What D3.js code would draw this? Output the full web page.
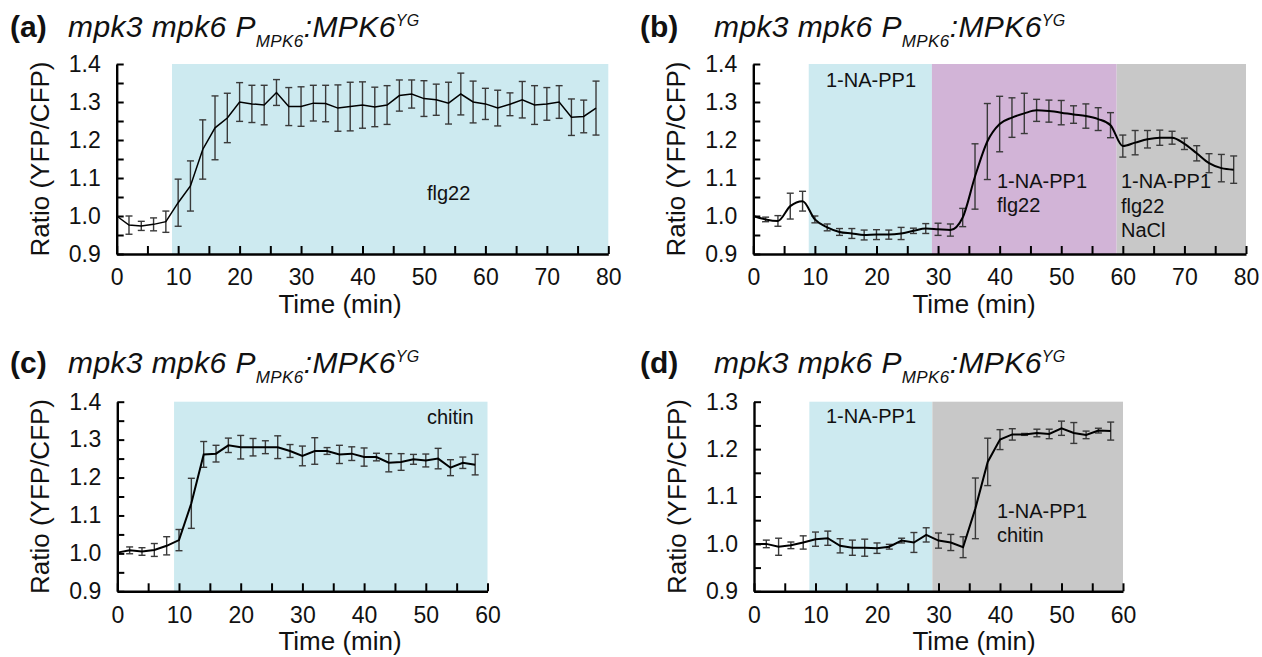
<!DOCTYPE html>
<html>
<head>
<meta charset="utf-8">
<script src="https://cdn.jsdelivr.net/npm/d3@7"></script>
<style>
  html, body { margin: 0; padding: 0; background: #ffffff; }
  svg { display: block; }
  text { font-family: "Liberation Sans", Arial, sans-serif; fill: #111; }
</style>
</head>
<body>
<div id="chart"></div>
<script>
// ---------------- DATA ----------------
const timeA = [0,2,4,6,8,10,12,14,16,18,20,22,24,26,28,30,32,34,36,38,40,42,44,46,48,50,52,54,56,58,60,62,64,66,68,70,72,74,76,78];
const valueA = [1.000,0.976,0.974,0.978,0.985,1.035,1.079,1.175,1.232,1.258,1.300,1.295,1.292,1.325,1.288,1.288,1.297,1.296,1.284,1.288,1.292,1.287,1.292,1.317,1.321,1.309,1.306,1.297,1.321,1.300,1.295,1.284,1.294,1.306,1.292,1.295,1.300,1.260,1.262,1.284];
const errA = [0.000,0.024,0.012,0.017,0.028,0.062,0.066,0.078,0.084,0.065,0.051,0.049,0.052,0.034,0.050,0.052,0.047,0.048,0.061,0.064,0.061,0.052,0.051,0.041,0.037,0.047,0.041,0.055,0.055,0.055,0.041,0.047,0.030,0.048,0.051,0.043,0.043,0.048,0.043,0.071];

const timeB = [0,2,4,6,8,10,12,14,16,18,20,22,24,26,28,30,32,34,36,38,40,42,44,46,48,50,52,54,56,58,60,62,64,66,68,70,72,74,76,78];
const valueB = [1.000,0.991,0.987,1.026,1.039,0.991,0.970,0.958,0.954,0.950,0.951,0.951,0.954,0.961,0.967,0.965,0.963,0.996,1.104,1.196,1.242,1.259,1.270,1.278,1.276,1.272,1.267,1.263,1.255,1.239,1.184,1.193,1.202,1.206,1.206,1.190,1.165,1.139,1.126,1.122];
const errB = [0.000,0.006,0.014,0.034,0.026,0.009,0.009,0.009,0.013,0.013,0.013,0.012,0.016,0.007,0.013,0.016,0.016,0.024,0.086,0.100,0.073,0.052,0.053,0.029,0.029,0.032,0.023,0.032,0.030,0.033,0.029,0.032,0.023,0.020,0.017,0.015,0.020,0.025,0.036,0.036];

const timeC = [0,2,4,6,8,10,12,14,16,18,20,22,24,26,28,30,32,34,36,38,40,42,44,46,48,50,52,54,56,58];
const valueC = [1.002,1.008,1.005,1.009,1.020,1.035,1.132,1.261,1.263,1.285,1.280,1.280,1.280,1.280,1.270,1.257,1.270,1.270,1.261,1.263,1.254,1.254,1.239,1.241,1.248,1.245,1.250,1.226,1.239,1.234];
const errC = [0.000,0.009,0.010,0.017,0.024,0.028,0.066,0.034,0.022,0.019,0.031,0.023,0.017,0.030,0.017,0.026,0.035,0.009,0.024,0.018,0.024,0.010,0.024,0.022,0.013,0.017,0.027,0.021,0.015,0.027];

const timeD = [0,2,4,6,8,10,12,14,16,18,20,22,24,26,28,30,32,34,36,38,40,42,44,46,48,50,52,54,56,58];
const valueD = [1.000,1.000,0.994,0.997,1.003,1.010,1.012,0.996,0.992,0.992,0.991,0.994,1.007,1.003,1.019,1.007,1.003,0.993,1.075,1.173,1.220,1.231,1.231,1.234,1.232,1.244,1.234,1.230,1.239,1.238];
const errD = [0.000,0.008,0.018,0.007,0.014,0.015,0.015,0.015,0.016,0.018,0.011,0.005,0.005,0.021,0.015,0.016,0.017,0.022,0.064,0.050,0.021,0.012,0.002,0.008,0.010,0.015,0.022,0.008,0.005,0.019];

// treatment periods (min)
const bandsA = [{from: 9, to: 80, color: "#cdeaf0"}];
const bandsB = [{from: 9, to: 29, color: "#cdeaf0"}, {from: 29, to: 59, color: "#d2b4d7"}, {from: 59, to: 80, color: "#c8c8c8"}];
const bandsC = [{from: 9.2, to: 60, color: "#cdeaf0"}];
const bandsD = [{from: 9, to: 29, color: "#cdeaf0"}, {from: 29, to: 60, color: "#c8c8c8"}];

// tick labels
const xTicks80 = [0,10,20,30,40,50,60,70,80];
const xTicks60 = [0,10,20,30,40,50,60];
const yTicks14 = [0.9,1.0,1.1,1.2,1.3,1.4];
const yTicks13 = [0.9,1.0,1.1,1.2,1.3];

const panelLetters = ["(a)", "(b)", "(c)", "(d)"];
const yLabel = "Ratio (YFP/CFP)";
const xLabel = "Time (min)";

// ---------------- DRAW ----------------
const svg = d3.select("#chart").append("svg").attr("width", 1262).attr("height", 657);

function drawPanel(p) {
  const x = d3.scaleLinear().domain(p.xDomain).range([p.left, p.right]);
  const y = d3.scaleLinear().domain(p.yDomain).range([p.bottom, p.top]);
  const g = svg.append("g");

  // bands
  g.selectAll("rect.band").data(p.bands).join("rect")
    .attr("x", d => x(d.from)).attr("y", y(p.yDomain[1]))
    .attr("width", d => x(d.to) - x(d.from))
    .attr("height", y(p.yDomain[0]) - y(p.yDomain[1]))
    .attr("fill", d => d.color);

  // annotations
  p.notes.forEach(n => {
    const t = g.append("text").attr("x", n.x).attr("y", n.y).attr("font-size", 20);
    n.lines.forEach((ln, i) => t.append("tspan").attr("x", n.x).attr("dy", i === 0 ? 0 : n.lh).text(ln));
  });

  // axes (inward ticks, major + minor)
  const xMinor = d3.range(p.xDomain[0], p.xDomain[1] + 0.001, 5);
  const yMinor = d3.range(0, Math.round((p.yDomain[1] - p.yDomain[0]) / 0.05) + 1).map(i => +(p.yDomain[0] + i * 0.05).toFixed(2));
  const xAxis = d3.axisBottom(x).tickValues(xMinor).tickSize(-8).tickSizeOuter(0).tickPadding(15)
    .tickFormat(v => p.xTicks.includes(v) ? d3.format("d")(v) : "");
  const yAxis = d3.axisLeft(y).tickValues(yMinor).tickSize(-7).tickSizeOuter(0).tickPadding(16)
    .tickFormat(v => p.yTicks.some(t => Math.abs(t - v) < 1e-6) ? d3.format(".1f")(v) : "");

  const gx = g.append("g").attr("transform", `translate(0,${p.bottom})`).call(xAxis);
  const gy = g.append("g").attr("transform", `translate(${p.left},0)`).call(yAxis);
  [gx, gy].forEach(a => {
    a.select(".domain").attr("stroke", "#000").attr("stroke-width", 2.4);
    a.selectAll(".tick line").attr("stroke", "#000").attr("stroke-width", 2);
    a.selectAll(".tick text").attr("font-size", 23).attr("fill", "#111")
      .attr("font-family", "Liberation Sans, Arial, sans-serif");
  });

  // error bars
  const data = p.t.map((t, i) => ({t, v: p.v[i], e: p.e[i]}));
  const eb = g.append("g").attr("stroke", "#3a3a3a").attr("stroke-width", 1.4).attr("fill", "none");
  data.filter(d => d.e > 0).forEach(d => {
    const cx = x(d.t), y1 = y(d.v + d.e), y2 = y(d.v - d.e);
    eb.append("line").attr("x1", cx).attr("x2", cx).attr("y1", y1).attr("y2", y2);
    eb.append("line").attr("x1", cx - 3.5).attr("x2", cx + 3.5).attr("y1", y1).attr("y2", y1);
    eb.append("line").attr("x1", cx - 3.5).attr("x2", cx + 3.5).attr("y1", y2).attr("y2", y2);
  });

  // mean line
  const line = d3.line().x(d => x(d.t)).y(d => y(d.v)).curve(p.curve);
  g.append("path").datum(data).attr("d", line)
    .attr("fill", "none").attr("stroke", "#000").attr("stroke-width", p.lw);

  // y label
  g.append("text").attr("transform", `translate(${p.left - 68},${(p.top + p.bottom) / 2}) rotate(-90)`)
    .attr("text-anchor", "middle").attr("font-size", 26).text(yLabel);
  // x label
  g.append("text").attr("x", p.xLabelX).attr("y", p.bottom + 59)
    .attr("text-anchor", "middle").attr("font-size", 26).text(xLabel);

  // title
  svg.append("text").attr("x", p.titleX).attr("y", p.titleY).attr("font-size", 30)
    .attr("font-weight", "bold").text(p.letter);
  const tt = svg.append("text").attr("x", p.nameX).attr("y", p.titleY)
    .attr("font-size", 30).attr("font-style", "italic").attr("letter-spacing", 0.4);
  tt.append("tspan").text("mpk3 mpk6 P");
  tt.append("tspan").attr("font-size", 17).attr("dy", 10).text("MPK6");
  tt.append("tspan").attr("dy", -10).text(":MPK6");
  tt.append("tspan").attr("font-size", 16).attr("dy", -11).text("YG");
}

drawPanel({letter: panelLetters[0], titleX: 10, nameX: 68, titleY: 37,
  left: 116.7, right: 608.3, top: 64, bottom: 254, xDomain: [0, 80], yDomain: [0.9, 1.4],
  xTicks: xTicks80, yTicks: yTicks14, bands: bandsA, t: timeA, v: valueA, e: errA,
  curve: d3.curveLinear, lw: 1.5, xLabelX: 340,
  notes: [{x: 427, y: 200, lh: 0, lines: ["flg22"]}]});

drawPanel({letter: panelLetters[1], titleX: 640, nameX: 714, titleY: 37,
  left: 753.3, right: 1246, top: 64, bottom: 254, xDomain: [0, 80], yDomain: [0.9, 1.4],
  xTicks: xTicks80, yTicks: yTicks14, bands: bandsB, t: timeB, v: valueB, e: errB,
  curve: d3.curveMonotoneX, lw: 2, xLabelX: 974,
  notes: [{x: 826, y: 87, lh: 0, lines: ["1-NA-PP1"]},
          {x: 997, y: 188, lh: 24, lines: ["1-NA-PP1", "flg22"]},
          {x: 1121, y: 188, lh: 24.5, lines: ["1-NA-PP1", "flg22", "NaCl"]}]});

drawPanel({letter: panelLetters[2], titleX: 10, nameX: 68, titleY: 373,
  left: 117.3, right: 487.5, top: 401.7, bottom: 591.3, xDomain: [0, 60], yDomain: [0.9, 1.4],
  xTicks: xTicks60, yTicks: yTicks14, bands: bandsC, t: timeC, v: valueC, e: errC,
  curve: d3.curveLinear, lw: 2, xLabelX: 340,
  notes: [{x: 427, y: 424, lh: 0, lines: ["chitin"]}]});

drawPanel({letter: panelLetters[3], titleX: 640, nameX: 714, titleY: 373,
  left: 754, right: 1123, top: 401.7, bottom: 591.3, xDomain: [0, 60], yDomain: [0.9, 1.3],
  xTicks: xTicks60, yTicks: yTicks13, bands: bandsD, t: timeD, v: valueD, e: errD,
  curve: d3.curveLinear, lw: 2, xLabelX: 974,
  notes: [{x: 826, y: 423, lh: 0, lines: ["1-NA-PP1"]},
          {x: 997, y: 518, lh: 24, lines: ["1-NA-PP1", "chitin"]}]});
</script>
</body>
</html>
